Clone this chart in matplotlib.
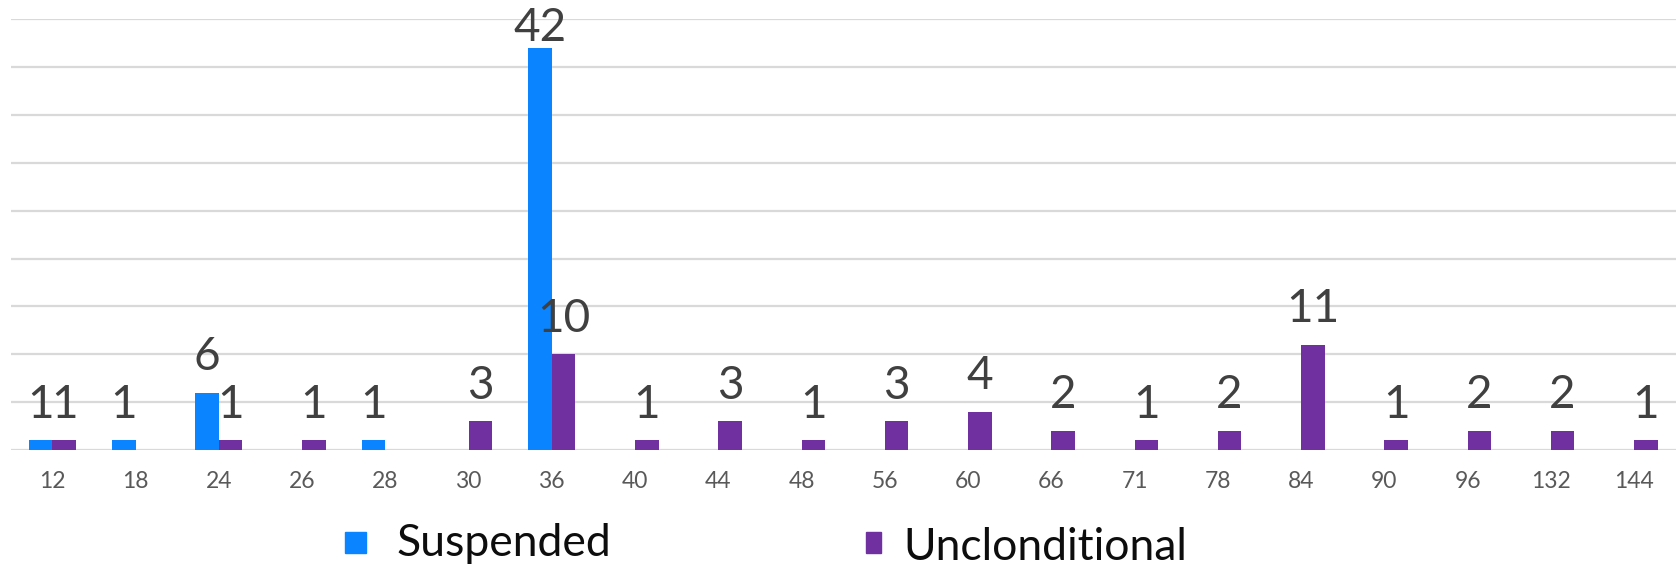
import matplotlib
matplotlib.use("Agg")
import matplotlib.pyplot as plt
from matplotlib.patches import Rectangle
import numpy as np

plt.rcParams['font.family'] = ['Lato', 'DejaVu Sans']

# Sentence length (months) and number of cases per sentence type
months = ["12", "18", "24", "26", "28", "30", "36", "40", "44", "48",
          "56", "60", "66", "71", "78", "84", "90", "96", "132", "144"]
suspended = [1, 1, 6, 0, 1, 0, 42, 0, 0, 0,
             0, 0, 0, 0, 0, 0, 0, 0, 0, 0]
unconditional = [1, 0, 1, 1, 0, 3, 10, 1, 3, 1,
                 3, 4, 2, 1, 2, 11, 1, 2, 2, 1]
series_names = ["Suspended", "Unclonditional"]

BLUE = "#0A84FF"
PURPLE = "#7030A0"
GRID = "#D9D9D9"

W, H = 1681, 568
fig = plt.figure(figsize=(W / 100, H / 100), dpi=100)
ax = fig.add_axes([10.7 / W, 1 - 450 / H, 1665 / W, 430.7 / H])

x = np.arange(len(months))
bw = 0.282
ax.bar(x - bw / 2, suspended, width=bw, color=BLUE, zorder=3)
ax.bar(x + bw / 2, unconditional, width=bw, color=PURPLE, zorder=3)

ax.set_xlim(-0.5, len(months) - 0.5)
ax.set_ylim(0, 45)
ax.set_yticks(np.arange(0, 46, 5))
ax.yaxis.grid(True, color=GRID, linewidth=1.6, zorder=0)
ax.tick_params(axis="y", left=False, labelleft=False)
ax.set_xticks(x)
ax.set_xticklabels(months)
ax.tick_params(axis="x", length=0, pad=15, labelsize=16.5, labelcolor="#595959")
for s in ax.spines.values():
    s.set_visible(False)

# value labels above each non-empty bar, kept inside the plot area
pad = 2.37
top_limit = 42.72
for xs, vals in ((x - bw / 2, suspended), (x + bw / 2, unconditional)):
    for xi, v in zip(xs, vals):
        if v:
            ax.text(xi, min(v + pad, top_limit), str(v), ha="center",
                    va="baseline", fontsize=33, color="#404040", zorder=4,
                    clip_on=False)

# legend below the chart
legend_items = [
    (series_names[0], BLUE, 345.0, 20.7, 396.0, 556.0),
    (series_names[1], PURPLE, 866.0, 15.0, 903.0, 560.0),
]
for name, col, mx, mw, tx, tb in legend_items:
    fig.add_artist(Rectangle((mx / W, 1 - 552.7 / H), mw / W, 21 / H,
                             transform=fig.transFigure, color=col))
    fig.text(tx / W, 1 - tb / H, name, ha="left", va="baseline",
             fontsize=32, color="#0D0D0D")

fig.savefig("out.png", dpi=100)
